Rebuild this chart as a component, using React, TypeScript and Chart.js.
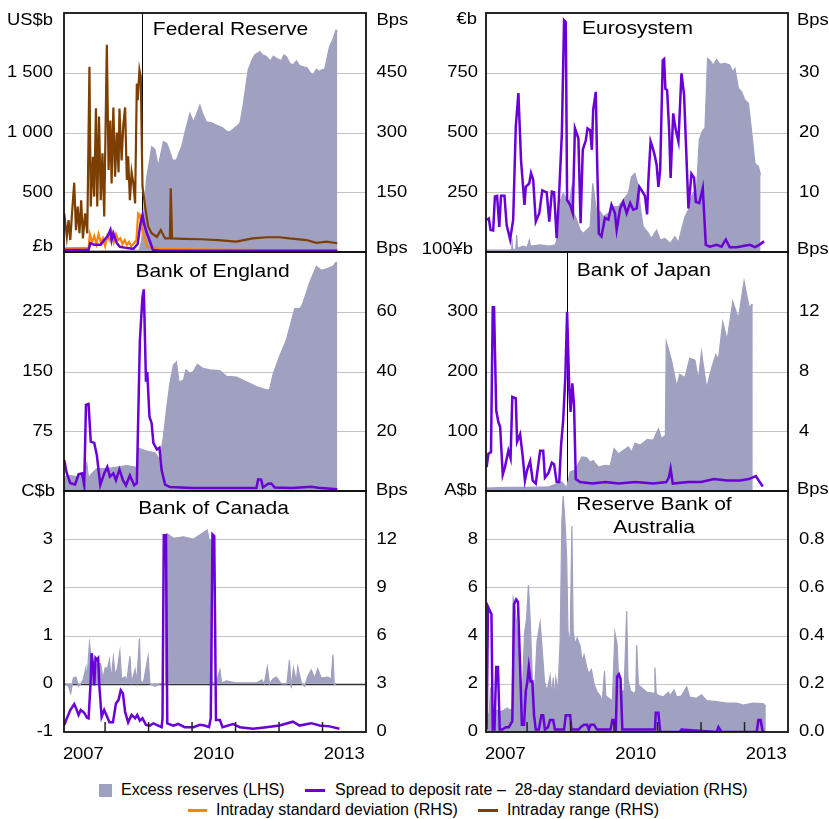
import React, { useEffect, useRef } from 'react';
import { Chart, registerables } from 'chart.js';

Chart.register(...registerables);

type Pt = [number, number];

// ---------------- data ----------------
const X_MIN = 2007.055;
const X_MAX = 2014.0;
const YEAR_LABELS = ['2007', '2010', '2013'];
const YEAR_LABEL_AT = [2007.5, 2010.5, 2013.5];
const YEAR_BOUNDARIES = [2008, 2009, 2010, 2011, 2012, 2013];

const LEGEND_LABELS = [
  'Excess reserves (LHS)',
  'Spread to deposit rate \u2013  28-day standard deviation (RHS)',
  'Intraday standard deviation (RHS)',
  'Intraday range (RHS)',
];

// Federal Reserve
const FED_LHS_TICKS = [0, 500, 1000, 1500, 2000];
const FED_LHS_LABELS = ['0', '500', '1 000', '1 500', 'US$b'];
const FED_RHS_TICKS = [0, 150, 300, 450, 600];
const FED_RHS_LABELS = ['0', '150', '300', '450', 'Bps'];
const FED_MARKER = 2008.84;
const FED_RESERVES: Pt[] = [
  [2007.06, 10], [2007.8, 10], [2008.4, 12], [2008.78, 15], [2008.84, 90], [2008.9, 400], [2008.96, 630],
  [2009.02, 760], [2009.07, 880], [2009.11, 870], [2009.15, 853], [2009.22, 714], [2009.28, 820], [2009.34, 923],
  [2009.42, 909], [2009.48, 850], [2009.55, 770], [2009.64, 770], [2009.7, 830], [2009.76, 881], [2009.85, 1020],
  [2009.95, 1161], [2010.03, 1090], [2010.1, 1150], [2010.18, 1230], [2010.25, 1150], [2010.33, 1090],
  [2010.45, 1080], [2010.56, 1063], [2010.7, 1040], [2010.8, 1010], [2010.87, 1007], [2010.95, 1030],
  [2011.05, 1060], [2011.1, 1077], [2011.17, 1216], [2011.29, 1523], [2011.37, 1600], [2011.44, 1649],
  [2011.56, 1677], [2011.62, 1650], [2011.71, 1635], [2011.8, 1600], [2011.87, 1640], [2011.94, 1621],
  [2012.05, 1600], [2012.11, 1650], [2012.17, 1635], [2012.25, 1580], [2012.32, 1565], [2012.4, 1600],
  [2012.47, 1560], [2012.55, 1551], [2012.65, 1540], [2012.72, 1500], [2012.78, 1481], [2012.86, 1530],
  [2012.92, 1510], [2012.97, 1523], [2013.05, 1530], [2013.16, 1718], [2013.24, 1780], [2013.31, 1858],
  [2013.34, 1845],
];
const FED_SPREAD_SD: Pt[] = [
  [2007.06, 5], [2007.62, 5], [2007.66, 22], [2007.75, 18], [2007.9, 18], [2007.98, 30], [2008.06, 40],
  [2008.12, 55], [2008.15, 30], [2008.19, 47], [2008.27, 22], [2008.34, 13], [2008.45, 11], [2008.65, 8],
  [2008.75, 20], [2008.81, 70], [2008.86, 93], [2008.9, 70], [2008.96, 47], [2009.02, 30], [2009.1, 5],
  [2009.3, 3], [2010.5, 3], [2011.5, 3], [2012.5, 3], [2013.34, 3],
];
const FED_INTRADAY_SD: Pt[] = [
  [2007.06, 9], [2007.4, 10], [2007.62, 10], [2007.65, 45], [2007.7, 25], [2007.75, 40], [2007.8, 20],
  [2007.85, 45], [2007.9, 25], [2007.95, 35], [2008.0, 15], [2008.05, 40], [2008.1, 30], [2008.15, 50],
  [2008.2, 25], [2008.25, 45], [2008.3, 30], [2008.35, 35], [2008.4, 20], [2008.45, 30], [2008.5, 18],
  [2008.55, 25], [2008.6, 15], [2008.65, 20], [2008.72, 30], [2008.76, 97], [2008.8, 93], [2008.84, 60],
  [2008.9, 38], [2008.97, 13], [2009.2, 8], [2009.6, 7], [2010.5, 6], [2011.5, 5], [2012.5, 5], [2013.34, 5],
];
const FED_INTRADAY_RANGE: Pt[] = [
  [2007.06, 97], [2007.12, 38], [2007.16, 80], [2007.2, 30], [2007.24, 98], [2007.29, 174], [2007.33, 55],
  [2007.37, 114], [2007.41, 47], [2007.45, 130], [2007.49, 34], [2007.54, 97], [2007.59, 47], [2007.64, 465],
  [2007.67, 114], [2007.72, 239], [2007.75, 139], [2007.79, 361], [2007.82, 114], [2007.86, 340],
  [2007.9, 130], [2007.94, 248], [2007.98, 89], [2008.04, 520], [2008.08, 206], [2008.12, 330],
  [2008.15, 172], [2008.19, 363], [2008.23, 189], [2008.27, 300], [2008.31, 200], [2008.33, 360],
  [2008.38, 230], [2008.42, 320], [2008.46, 363], [2008.5, 181], [2008.53, 240], [2008.57, 130],
  [2008.61, 200], [2008.65, 172], [2008.69, 122], [2008.73, 423], [2008.75, 381], [2008.79, 457],
  [2008.82, 440], [2008.86, 164], [2008.92, 114], [2008.99, 64], [2009.07, 47], [2009.19, 38], [2009.28, 55],
  [2009.38, 34], [2009.49, 34], [2009.51, 160], [2009.54, 34], [2009.8, 33], [2010.2, 32], [2010.6, 30],
  [2011.02, 26], [2011.39, 34], [2011.71, 37], [2012.01, 37], [2012.24, 34], [2012.63, 30], [2012.86, 23],
  [2013.09, 26], [2013.34, 22],
];

// Eurosystem
const EURO_LHS_TICKS = [0, 250, 500, 750, 1000];
const EURO_LHS_LABELS = ['0', '250', '500', '750', '\u20acb'];
const EURO_RHS_TICKS = [0, 10, 20, 30, 40];
const EURO_RHS_LABELS = ['0', '10', '20', '30', 'Bps'];
const EURO_RESERVES: Pt[] = [
  [2007.07, 8], [2007.6, 8], [2007.63, 10], [2007.65, 57], [2007.67, 10], [2007.74, 12], [2007.76, 71],
  [2007.78, 15], [2007.9, 25], [2008.0, 20], [2008.05, 50], [2008.08, 25], [2008.3, 30], [2008.5, 25],
  [2008.65, 30], [2008.72, 78], [2008.77, 218], [2008.83, 246], [2008.91, 218], [2008.97, 204],
  [2009.03, 273], [2009.08, 162], [2009.14, 134], [2009.22, 92], [2009.29, 78], [2009.45, 106],
  [2009.51, 287], [2009.56, 218], [2009.61, 162], [2009.68, 169], [2009.75, 148], [2009.87, 162],
  [2009.98, 190], [2010.1, 190], [2010.21, 218], [2010.33, 246], [2010.4, 315], [2010.48, 329],
  [2010.56, 273], [2010.6, 190], [2010.67, 106], [2010.79, 78], [2010.86, 57], [2010.98, 92], [2011.06, 50],
  [2011.17, 57], [2011.29, 36], [2011.4, 64], [2011.48, 40], [2011.55, 92], [2011.63, 148], [2011.71, 176],
  [2011.78, 232], [2011.9, 273], [2011.96, 469], [2012.04, 510], [2012.09, 517], [2012.15, 810],
  [2012.2, 803], [2012.28, 782], [2012.36, 806], [2012.43, 786], [2012.55, 789], [2012.66, 782],
  [2012.73, 754], [2012.78, 768], [2012.86, 685], [2012.93, 671], [2013.01, 636], [2013.09, 622],
  [2013.16, 510], [2013.24, 371], [2013.32, 357], [2013.37, 322],
];
const EURO_SPREAD_SD: Pt[] = [
  [2007.07, 5.4], [2007.12, 5.6], [2007.16, 3.7], [2007.22, 3.6], [2007.26, 9.3], [2007.31, 9.4],
  [2007.36, 4.2], [2007.4, 9.4], [2007.48, 9.4], [2007.53, 4.5], [2007.61, 2.1], [2007.68, 5.4],
  [2007.74, 21], [2007.8, 26.6], [2007.86, 15.4], [2007.94, 7.9], [2007.97, 10.9], [2008.05, 11.5],
  [2008.09, 13.2], [2008.14, 12.1], [2008.2, 5.1], [2008.28, 6.5], [2008.35, 10.3], [2008.41, 10.1],
  [2008.45, 10], [2008.51, 5.1], [2008.57, 10.1], [2008.62, 10], [2008.68, 2.3], [2008.73, 8.7],
  [2008.8, 19.9], [2008.85, 38.8], [2008.89, 38.5], [2008.92, 8.7], [2008.99, 7.9], [2009.05, 6.5],
  [2009.1, 20.7], [2009.18, 19], [2009.23, 4.8], [2009.28, 17.1], [2009.35, 18.7], [2009.39, 20.7],
  [2009.45, 20.4], [2009.49, 17.1], [2009.52, 23.8], [2009.58, 26.8], [2009.61, 15.4], [2009.65, 3.1],
  [2009.71, 2.6], [2009.79, 5.7], [2009.87, 5.4], [2009.94, 7.9], [2010.02, 6.5], [2010.06, 3.7],
  [2010.14, 7.3], [2010.21, 8.4], [2010.29, 6.5], [2010.37, 8.2], [2010.44, 7.1], [2010.52, 7.3],
  [2010.58, 10.9], [2010.66, 10], [2010.71, 9.4], [2010.76, 6.3], [2010.79, 12.1], [2010.84, 18.5],
  [2010.89, 17.4], [2010.94, 16], [2010.98, 14.5], [2011.02, 10.9], [2011.06, 13.7], [2011.12, 32.1],
  [2011.15, 32.3], [2011.18, 27.3], [2011.22, 27.1], [2011.27, 19.9], [2011.3, 12.4], [2011.36, 23.2],
  [2011.42, 20.4], [2011.48, 18.5], [2011.55, 29.9], [2011.61, 26.3], [2011.65, 18.7], [2011.71, 7.3],
  [2011.78, 13.1], [2011.84, 12.4], [2011.88, 8.4], [2011.96, 8.2], [2012.04, 10.7], [2012.11, 1.2],
  [2012.2, 0.9], [2012.36, 1.2], [2012.47, 0.9], [2012.57, 2.1], [2012.66, 0.8], [2012.82, 0.8],
  [2012.97, 1.0], [2013.12, 1.2], [2013.24, 0.8], [2013.34, 1.2], [2013.45, 1.8],
];

// Bank of England
const BOE_LHS_TICKS = [0, 75, 150, 225, 300];
const BOE_LHS_LABELS = ['0', '75', '150', '225', '\u00a3b'];
const BOE_RHS_TICKS = [0, 20, 40, 60, 80];
const BOE_RHS_LABELS = ['0', '20', '40', '60', 'Bps'];
const BOE_RESERVES: Pt[] = [
  [2007.06, 15], [2007.12, 20], [2007.35, 18], [2007.5, 20], [2007.58, 35], [2007.62, 15], [2007.66, 20],
  [2007.81, 28], [2008.04, 28], [2008.27, 30], [2008.5, 32], [2008.69, 30], [2008.72, 28], [2008.76, 54],
  [2008.96, 50], [2009.15, 48], [2009.26, 39], [2009.34, 68], [2009.42, 106], [2009.49, 135], [2009.57, 158],
  [2009.64, 162], [2009.7, 137], [2009.8, 139], [2009.86, 152], [2009.95, 148], [2010.03, 150], [2010.12, 159],
  [2010.25, 154], [2010.41, 152], [2010.64, 151], [2010.79, 144], [2011.02, 143], [2011.25, 137],
  [2011.48, 131], [2011.71, 127], [2011.78, 127], [2011.86, 146], [2012.01, 169], [2012.17, 190],
  [2012.36, 229], [2012.47, 229], [2012.53, 233], [2012.7, 261], [2012.86, 282], [2012.97, 277],
  [2013.09, 279], [2013.24, 282], [2013.31, 287], [2013.34, 287],
];
const BOE_SPREAD_SD: Pt[] = [
  [2007.06, 10.4], [2007.12, 5.9], [2007.2, 2.6], [2007.31, 2.2], [2007.39, 5.6], [2007.47, 5.9],
  [2007.52, 1.9], [2007.56, 28.8], [2007.62, 29.1], [2007.67, 16.5], [2007.75, 16.1], [2007.81, 12],
  [2007.89, 2], [2007.98, 5.9], [2008.05, 8.1], [2008.11, 4.8], [2008.19, 5.9], [2008.25, 3.6],
  [2008.33, 7.2], [2008.41, 3.6], [2008.48, 1.9], [2008.57, 5.2], [2008.67, 1.9], [2008.73, 2.6],
  [2008.8, 50.5], [2008.86, 65], [2008.89, 67.5], [2008.94, 36.6], [2008.97, 39.8], [2009.02, 24.9],
  [2009.07, 22.7], [2009.11, 16.1], [2009.19, 13.9], [2009.25, 14.5], [2009.3, 7], [2009.38, 2.1],
  [2009.49, 1.3], [2010.0, 1.0], [2010.5, 1.0], [2011.0, 1.0], [2011.48, 1.0], [2011.52, 3.9],
  [2011.59, 3.8], [2011.63, 1.2], [2011.75, 2.4], [2011.82, 2.5], [2011.9, 1.2], [2012.3, 1.0],
  [2012.74, 1.4], [2012.9, 1.1], [2013.34, 0.6],
];

// Bank of Japan
const BOJ_LHS_TICKS = [0, 100, 200, 300, 400];
const BOJ_LHS_LABELS = ['0', '100', '200', '300', '100\u00a5b'];
const BOJ_RHS_TICKS = [0, 4, 8, 12, 16];
const BOJ_RHS_LABELS = ['0', '4', '8', '12', 'Bps'];
const BOJ_MARKER = 2008.92;
const BOJ_RESERVES: Pt[] = [
  [2007.07, 5], [2007.5, 6], [2008.0, 6], [2008.5, 7], [2008.8, 15], [2008.88, 8], [2008.91, 5],
  [2008.99, 32], [2009.1, 35], [2009.26, 57], [2009.37, 56], [2009.45, 48], [2009.52, 51], [2009.64, 40],
  [2009.79, 43], [2009.91, 42], [2010.0, 71], [2010.1, 62], [2010.21, 68], [2010.33, 74], [2010.4, 65],
  [2010.48, 80], [2010.6, 77], [2010.67, 81], [2010.76, 86], [2010.9, 85], [2011.02, 104], [2011.09, 88],
  [2011.18, 93], [2011.2, 250], [2011.32, 219], [2011.44, 175], [2011.51, 195], [2011.63, 190],
  [2011.74, 222], [2011.86, 219], [2011.94, 186], [2012.01, 233], [2012.13, 172], [2012.24, 205],
  [2012.34, 228], [2012.4, 220], [2012.5, 283], [2012.6, 253], [2012.73, 317], [2012.86, 289],
  [2012.99, 351], [2013.11, 306], [2013.16, 312], [2013.19, 312],
];
const BOJ_SPREAD_SD: Pt[] = [
  [2007.07, 1.6], [2007.11, 2.5], [2007.17, 2.6], [2007.21, 12.3], [2007.24, 12.3], [2007.29, 5.4],
  [2007.34, 4.6], [2007.38, 4.3], [2007.44, 1.1], [2007.49, 1.6], [2007.57, 2.7], [2007.62, 2.2],
  [2007.66, 6.3], [2007.74, 6.2], [2007.77, 3.3], [2007.84, 3.8], [2007.9, 2.3], [2007.95, 0.7],
  [2008.0, 1.4], [2008.07, 2.0], [2008.13, 0.7], [2008.2, 0.5], [2008.3, 2.7], [2008.37, 2.7],
  [2008.41, 0.9], [2008.49, 1.2], [2008.57, 1.9], [2008.62, 1.8], [2008.68, 0.6], [2008.74, 0.6],
  [2008.78, 3.0], [2008.83, 4.75], [2008.88, 7.7], [2008.92, 12.0], [2008.97, 6.8], [2009.0, 5.3],
  [2009.04, 7.2], [2009.08, 5.7], [2009.12, 0.8], [2009.22, 0.6], [2009.5, 0.5], [2009.8, 0.6],
  [2010.1, 0.5], [2010.5, 0.6], [2010.9, 0.5], [2011.2, 0.6], [2011.26, 0.9], [2011.3, 1.5],
  [2011.35, 0.5], [2011.7, 0.6], [2012.0, 0.6], [2012.3, 0.8], [2012.6, 0.7], [2012.9, 0.7],
  [2013.1, 0.8], [2013.26, 1.0], [2013.35, 0.6], [2013.42, 0.3],
];

// Bank of Canada
const BOC_LHS_TICKS = [-1, 0, 1, 2, 3, 4];
const BOC_LHS_LABELS = ['-1', '0', '1', '2', '3', 'C$b'];
const BOC_RHS_TICKS = [0, 3, 6, 9, 12, 15];
const BOC_RHS_LABELS = ['0', '3', '6', '9', '12', 'Bps'];
const BOC_RESERVES: Pt[] = [
  [2007.08, 0], [2007.16, -0.05], [2007.21, -0.2], [2007.27, 0.12], [2007.33, 0.14], [2007.39, -0.05],
  [2007.44, 0.0], [2007.5, 0.1], [2007.56, 0.33], [2007.58, 0.05], [2007.64, 0.84], [2007.68, 0.57],
  [2007.73, 0.4], [2007.79, 0.42], [2007.85, 0.4], [2007.9, 0.42], [2007.95, 0.1], [2008.0, 0.33],
  [2008.06, 0.33], [2008.1, 0.5], [2008.14, 0.1], [2008.19, 0.55], [2008.23, 0.2], [2008.28, 0.3],
  [2008.34, 0.67], [2008.38, 0.1], [2008.46, 0.15], [2008.5, 0.05], [2008.57, 0.57], [2008.61, 0.03],
  [2008.69, 0.3], [2008.73, 0.05], [2008.79, 0.94], [2008.82, 0.05], [2008.88, 0.02], [2008.99, 0.57],
  [2009.03, 0.0], [2009.15, -0.05], [2009.26, 0.0], [2009.38, 0.0], [2009.39, 3.0], [2009.42, 3.12],
  [2009.57, 3.02], [2009.8, 3.05], [2010.03, 3.0], [2010.35, 3.19], [2010.39, 3.0], [2010.45, 2.98],
  [2010.46, 0.04], [2010.55, 0.0], [2010.64, 0.29], [2010.68, 0.02], [2010.79, 0.06], [2011.0, 0.02],
  [2011.5, 0.02], [2011.6, 0.08], [2011.66, 0.0], [2011.73, 0.35], [2011.78, 0.0], [2011.86, 0.1],
  [2011.94, 0.14], [2012.05, 0.0], [2012.18, 0.0], [2012.24, 0.49], [2012.28, -0.09], [2012.33, 0.33],
  [2012.4, 0.05], [2012.43, 0.35], [2012.52, 0.0], [2012.59, -0.05], [2012.66, 0.15], [2012.74, 0.29],
  [2012.82, 0.12], [2012.89, 0.31], [2012.97, 0.12], [2013.12, 0.14], [2013.2, 0.1], [2013.24, 0.6],
  [2013.27, -0.02], [2013.31, 0.0],
];
const BOC_SPREAD_SD: Pt[] = [
  [2007.06, 0.44], [2007.12, 0.85], [2007.2, 1.37], [2007.29, 1.74], [2007.33, 1.5], [2007.39, 1.06],
  [2007.44, 1.37], [2007.52, 1.2], [2007.58, 0.9], [2007.62, 0.85], [2007.67, 3.23], [2007.69, 4.9],
  [2007.73, 4.0], [2007.75, 2.9], [2007.78, 4.6], [2007.81, 4.5], [2007.84, 4.6], [2007.87, 2.8],
  [2007.92, 0.95], [2007.98, 1.37], [2008.04, 1.0], [2008.1, 0.6], [2008.18, 0.6], [2008.25, 1.78],
  [2008.31, 2.0], [2008.36, 2.6], [2008.41, 2.4], [2008.46, 1.26], [2008.53, 0.6], [2008.61, 1.06],
  [2008.69, 0.85], [2008.74, 1.06], [2008.8, 0.7], [2008.86, 0.85], [2008.94, 0.44], [2009.03, 0.4],
  [2009.11, 0.54], [2009.22, 0.4], [2009.3, 0.3], [2009.32, 0.85], [2009.35, 12.25], [2009.4, 12.25],
  [2009.43, 0.54], [2009.57, 0.4], [2009.68, 0.5], [2009.83, 0.3], [2010.03, 0.3], [2010.18, 0.45],
  [2010.29, 0.4], [2010.39, 0.3], [2010.43, 0.85], [2010.47, 12.3], [2010.51, 12.2], [2010.55, 0.75],
  [2010.64, 0.75], [2010.7, 0.3], [2010.94, 0.5], [2011.1, 0.3], [2011.4, 0.2], [2011.71, 0.3],
  [2012.01, 0.4], [2012.32, 0.64], [2012.47, 0.4], [2012.74, 0.55], [2012.93, 0.4], [2013.16, 0.35],
  [2013.39, 0.2],
];

// Reserve Bank of Australia
const RBA_LHS_TICKS = [0, 2, 4, 6, 8, 10];
const RBA_LHS_LABELS = ['0', '2', '4', '6', '8', 'A$b'];
const RBA_RHS_TICKS = [0, 0.2, 0.4, 0.6, 0.8, 1.0];
const RBA_RHS_LABELS = ['0.0', '0.2', '0.4', '0.6', '0.8', 'Bps'];
const RBA_RESERVES: Pt[] = [
  [2007.07, 1.0], [2007.12, 0.5], [2007.16, 1.84], [2007.2, 0.87], [2007.31, 0.9], [2007.4, 0.85],
  [2007.46, 0.9], [2007.54, 1.0], [2007.61, 0.9], [2007.66, 1.0], [2007.68, 5.57], [2007.71, 5.4],
  [2007.76, 4.47], [2007.81, 3.36], [2007.85, 2.25], [2007.89, 1.7], [2007.94, 4.05], [2007.99, 4.74],
  [2008.03, 6.09], [2008.07, 4.74], [2008.12, 2.25], [2008.17, 1.7], [2008.23, 3.78], [2008.3, 4.54],
  [2008.35, 3.36], [2008.4, 2.1], [2008.46, 1.7], [2008.53, 2.32], [2008.57, 1.5], [2008.6, 2.25],
  [2008.63, 1.4], [2008.66, 2.25], [2008.71, 1.7], [2008.76, 3.78], [2008.8, 8.76], [2008.83, 9.79],
  [2008.87, 8.76], [2008.91, 7.23], [2008.94, 4.19], [2008.99, 3.64], [2009.03, 8.55], [2009.06, 4.19],
  [2009.1, 3.64], [2009.15, 3.9], [2009.22, 3.57], [2009.26, 2.96], [2009.31, 3.2], [2009.37, 2.7],
  [2009.42, 2.42], [2009.48, 2.6], [2009.54, 2.0], [2009.61, 1.66], [2009.68, 1.5], [2009.73, 1.29],
  [2009.78, 2.53], [2009.81, 1.5], [2009.88, 1.4], [2009.96, 1.29], [2010.02, 4.12], [2010.07, 3.64],
  [2010.11, 2.0], [2010.17, 1.7], [2010.23, 1.7], [2010.29, 5.02], [2010.32, 2.2], [2010.38, 1.7],
  [2010.46, 1.6], [2010.5, 1.7], [2010.52, 3.61], [2010.56, 1.95], [2010.75, 1.66], [2010.92, 1.6],
  [2010.94, 2.67], [2010.97, 1.6], [2011.02, 1.52], [2011.13, 1.45], [2011.25, 1.65], [2011.29, 1.5],
  [2011.38, 1.74], [2011.44, 1.45], [2011.55, 1.5], [2011.67, 1.88], [2011.74, 1.45], [2011.9, 1.4],
  [2012.01, 1.54], [2012.13, 1.3], [2012.36, 1.26], [2012.59, 1.2], [2012.82, 1.2], [2012.97, 1.12],
  [2013.2, 1.2], [2013.43, 1.18], [2013.49, 1.05],
];
const RBA_SPREAD_SD: Pt[] = [
  [2007.07, 0.01], [2007.1, 0.52], [2007.15, 0.5], [2007.18, 0.49], [2007.21, 0.01], [2007.25, 0.01],
  [2007.29, 0.27], [2007.33, 0.27], [2007.37, 0.01], [2007.43, 0.01], [2007.51, 0.02], [2007.58, 0.02],
  [2007.66, 0.045], [2007.7, 0.53], [2007.75, 0.55], [2007.79, 0.54], [2007.84, 0.27], [2007.88, 0.03],
  [2007.93, 0.03], [2007.97, 0.17], [2008.0, 0.2], [2008.04, 0.27], [2008.08, 0.21], [2008.12, 0.21],
  [2008.16, 0.07], [2008.2, 0.01], [2008.27, 0.01], [2008.33, 0.07], [2008.37, 0.07], [2008.41, 0.01],
  [2008.48, 0.02], [2008.53, 0.05], [2008.6, 0.05], [2008.64, 0.01], [2008.85, 0.01], [2008.89, 0.07],
  [2008.99, 0.07], [2009.02, 0.01], [2009.19, 0.01], [2009.23, 0.02], [2009.31, 0.03], [2009.38, 0.03],
  [2009.42, 0.01], [2009.46, 0.03], [2009.54, 0.03], [2009.61, 0.01], [2009.92, 0.01], [2009.96, 0.05],
  [2010.0, 0.05], [2010.04, 0.01], [2010.07, 0.23], [2010.11, 0.24], [2010.15, 0.22], [2010.19, 0.01],
  [2010.94, 0.01], [2010.96, 0.08], [2011.02, 0.08], [2011.06, 0.0], [2011.5, 0.0], [2011.55, 0.01],
  [2012.36, 0.0], [2012.4, 0.02], [2012.47, 0.0], [2013.28, 0.0], [2013.32, 0.05], [2013.37, 0.05],
  [2013.42, 0.0], [2013.47, 0.0],
];

// ---------------- styles & layout ----------------
const FONT = "'Liberation Sans', Arial, Helvetica, sans-serif";
const STRETCH = 1.13;
const TICK_SIZE = 16.3;
const TITLE_SIZE = 18.6;
const AREA = '#a0a0c0';
const PURPLE = '#6a00d6';
const ORANGE = '#ff8400';
const BROWN = '#7d3f00';
const GRID = '#c4c4c4';

interface PanelDef {
  title: string[];
  lhsTicks: number[]; lhsLabels: string[];
  rhsTicks: number[]; rhsLabels: string[];
  reserves: Pt[]; spread: Pt[];
  intradaySd?: Pt[]; intradayRange?: Pt[];
  marker?: number;
  zeroLine?: boolean;
}

interface PanelLayout {
  col: number; row: number;
  titleDx: number; titleDy: number[];
  unitL: [number, number]; unitR: [number, number];
}

const COLS = [
  { left: 0, w: 414, padL: 64, padR: 48, numL: 11, numR: 10.5 },
  { left: 414, w: 415, padL: 72, padR: 41, numL: 8, numR: 11 },
];
const ROWS = [
  { top: 0, padT: 13, plotH: 239, padB: 13 },
  { top: 232, padT: 20, plotH: 239, padB: 13 },
  { top: 471, padT: 20, plotH: 241, padB: 45 },
];

const PANELS: { def: PanelDef; lay: PanelLayout }[] = [
  {
    def: { title: ['Federal Reserve'], lhsTicks: FED_LHS_TICKS, lhsLabels: FED_LHS_LABELS, rhsTicks: FED_RHS_TICKS, rhsLabels: FED_RHS_LABELS, reserves: FED_RESERVES, spread: FED_SPREAD_SD, intradaySd: FED_INTRADAY_SD, intradayRange: FED_INTRADAY_RANGE, marker: FED_MARKER },
    lay: { col: 0, row: 0, titleDx: 15.5, titleDy: [17], unitL: [-11, 7.5], unitR: [10.5, 7.5] },
  },
  {
    def: { title: ['Eurosystem'], lhsTicks: EURO_LHS_TICKS, lhsLabels: EURO_LHS_LABELS, rhsTicks: EURO_RHS_TICKS, rhsLabels: EURO_RHS_LABELS, reserves: EURO_RESERVES, spread: EURO_SPREAD_SD },
    lay: { col: 1, row: 0, titleDx: 0.5, titleDy: [16], unitL: [-9, 6.7], unitR: [9, 7.5] },
  },
  {
    def: { title: ['Bank of England'], lhsTicks: BOE_LHS_TICKS, lhsLabels: BOE_LHS_LABELS, rhsTicks: BOE_RHS_TICKS, rhsLabels: BOE_RHS_LABELS, reserves: BOE_RESERVES, spread: BOE_SPREAD_SD },
    lay: { col: 0, row: 1, titleDx: -2.5, titleDy: [19.5], unitL: [-11, -5.5], unitR: [10, -3] },
  },
  {
    def: { title: ['Bank of Japan'], lhsTicks: BOJ_LHS_TICKS, lhsLabels: BOJ_LHS_LABELS, rhsTicks: BOJ_RHS_TICKS, rhsLabels: BOJ_RHS_LABELS, reserves: BOJ_RESERVES, spread: BOJ_SPREAD_SD, marker: BOJ_MARKER },
    lay: { col: 1, row: 1, titleDx: 6.8, titleDy: [18.8], unitL: [-13, -2], unitR: [9, -2] },
  },
  {
    def: { title: ['Bank of Canada'], lhsTicks: BOC_LHS_TICKS, lhsLabels: BOC_LHS_LABELS, rhsTicks: BOC_RHS_TICKS, rhsLabels: BOC_RHS_LABELS, reserves: BOC_RESERVES, spread: BOC_SPREAD_SD, zeroLine: true },
    lay: { col: 0, row: 2, titleDx: -1.5, titleDy: [17.5], unitL: [-9, 0.5], unitR: [10, 0] },
  },
  {
    def: { title: ['Reserve Bank of', 'Australia'], lhsTicks: RBA_LHS_TICKS, lhsLabels: RBA_LHS_LABELS, rhsTicks: RBA_RHS_TICKS, rhsLabels: RBA_RHS_LABELS, reserves: RBA_RESERVES, spread: RBA_SPREAD_SD },
    lay: { col: 1, row: 2, titleDx: 17, titleDy: [14, 37.3], unitL: [-9, 0], unitR: [9, -1] },
  },
];

function drawText(ctx: CanvasRenderingContext2D, s: string, x: number, y: number, align: CanvasTextAlign, size: number) {
  ctx.save();
  ctx.translate(x, y);
  ctx.scale(STRETCH, 1);
  ctx.font = `${size}px ${FONT}`;
  ctx.textAlign = align;
  ctx.textBaseline = 'middle';
  ctx.fillStyle = '#000';
  ctx.fillText(s, 0, 0);
  ctx.restore();
}

function makeDecor(def: PanelDef, lay: PanelLayout) {
  const col = COLS[lay.col];
  const isBottom = lay.row === 2;
  return {
    id: 'decor',
    beforeDatasetsDraw(chart: any) {
      const { ctx, chartArea: a, scales } = chart;
      ctx.save();
      def.lhsTicks.forEach((v, i) => {
        if (i === 0 || i === def.lhsTicks.length - 1) return;
        const py = Math.round(scales.y.getPixelForValue(v)) + 0.5;
        const zero = def.zeroLine && v === 0;
        ctx.strokeStyle = zero ? '#333' : GRID;
        ctx.lineWidth = zero ? 1.5 : 1;
        ctx.beginPath();
        ctx.moveTo(a.left, py);
        ctx.lineTo(a.right, py);
        ctx.stroke();
      });
      if (def.marker !== undefined) {
        const px = Math.round(scales.x.getPixelForValue(def.marker)) + 0.5;
        ctx.strokeStyle = '#000';
        ctx.lineWidth = 1;
        ctx.beginPath();
        ctx.moveTo(px, a.top);
        ctx.lineTo(px, a.bottom);
        ctx.stroke();
      }
      ctx.restore();
    },
    afterDatasetsDraw(chart: any) {
      const { ctx, chartArea: a, scales } = chart;
      ctx.save();
      if (isBottom) {
        ctx.strokeStyle = '#222';
        ctx.lineWidth = 1.5;
        YEAR_BOUNDARIES.forEach((yr) => {
          const px = scales.x.getPixelForValue(yr);
          ctx.beginPath();
          ctx.moveTo(px, a.bottom);
          ctx.lineTo(px, a.bottom - 10);
          ctx.stroke();
        });
      }
      ctx.strokeStyle = '#111';
      ctx.lineWidth = 1.8;
      ctx.strokeRect(a.left, a.top, a.right - a.left, a.bottom - a.top);

      const cx = (a.left + a.right) / 2 + lay.titleDx;
      def.title.forEach((line, i) => drawText(ctx, line, cx, a.top + lay.titleDy[i], 'center', TITLE_SIZE));

      const nL = def.lhsTicks.length;
      def.lhsTicks.forEach((v, i) => {
        if (i === nL - 1) return;
        if (i === 0 && !isBottom) return;
        drawText(ctx, def.lhsLabels[i], a.left - col.numL, scales.y.getPixelForValue(v), 'right', TICK_SIZE);
      });
      drawText(ctx, def.lhsLabels[nL - 1], a.left + lay.unitL[0], a.top + lay.unitL[1], 'right', TICK_SIZE);

      const nR = def.rhsTicks.length;
      def.rhsTicks.forEach((v, i) => {
        if (i === nR - 1) return;
        if (i === 0 && !isBottom) return;
        drawText(ctx, def.rhsLabels[i], a.right + col.numR, scales.y1.getPixelForValue(v), 'left', TICK_SIZE);
      });
      drawText(ctx, def.rhsLabels[nR - 1], a.right + lay.unitR[0], a.top + lay.unitR[1], 'left', TICK_SIZE);

      if (isBottom) {
        YEAR_LABEL_AT.forEach((yr, i) => {
          drawText(ctx, YEAR_LABELS[i], scales.x.getPixelForValue(yr), a.bottom + 23, 'center', TICK_SIZE);
        });
      }
      ctx.restore();
    },
  };
}

const toXY = (pts: Pt[]) => pts.map(([x, y]) => ({ x, y }));

function Panel({ def, lay }: { def: PanelDef; lay: PanelLayout }) {
  const ref = useRef<HTMLCanvasElement>(null);
  const col = COLS[lay.col];
  const row = ROWS[lay.row];
  const h = row.padT + row.plotH + row.padB;

  useEffect(() => {
    const datasets: any[] = [
      { data: toXY(def.spread), yAxisID: 'y1', borderColor: PURPLE, borderWidth: 2.5, pointRadius: 0, fill: false, order: 0 },
    ];
    if (def.intradaySd) {
      datasets.push({ data: toXY(def.intradaySd), yAxisID: 'y1', borderColor: ORANGE, borderWidth: 2.2, pointRadius: 0, fill: false, order: 1 });
    }
    if (def.intradayRange) {
      datasets.push({ data: toXY(def.intradayRange), yAxisID: 'y1', borderColor: BROWN, borderWidth: 2.2, pointRadius: 0, fill: false, order: 2 });
    }
    datasets.push({ data: toXY(def.reserves), yAxisID: 'y', borderWidth: 1.2, borderColor: AREA, backgroundColor: AREA, pointRadius: 0, fill: 'origin', order: 3 });

    const chart = new Chart(ref.current as HTMLCanvasElement, {
      type: 'line',
      data: { datasets },
      options: {
        animation: false,
        responsive: false,
        events: [],
        layout: { padding: { left: col.padL, right: col.padR, top: row.padT, bottom: row.padB } },
        plugins: { legend: { display: false }, tooltip: { enabled: false } },
        elements: { line: { tension: 0 } },
        scales: {
          x: { type: 'linear', min: X_MIN, max: X_MAX, display: false },
          y: { type: 'linear', position: 'left', min: def.lhsTicks[0], max: def.lhsTicks[def.lhsTicks.length - 1], display: false },
          y1: { type: 'linear', position: 'right', min: def.rhsTicks[0], max: def.rhsTicks[def.rhsTicks.length - 1], display: false },
        },
      },
      plugins: [makeDecor(def, lay)],
    } as any);
    return () => chart.destroy();
  }, []);

  return (
    <canvas
      ref={ref}
      width={col.w}
      height={h}
      style={{ position: 'absolute', left: col.left, top: row.top, width: col.w, height: h }}
    />
  );
}

const legendText: React.CSSProperties = {
  position: 'absolute', fontFamily: FONT, fontSize: 16, lineHeight: '18px', color: '#000', whiteSpace: 'pre',
};

export default function App() {
  return (
    <div style={{ position: 'absolute', left: 0, top: 0, width: 829, height: 819, background: '#fff', overflow: 'hidden' }}>
      {PANELS.map((p, i) => (
        <Panel key={i} def={p.def} lay={p.lay} />
      ))}
      <div style={{ position: 'absolute', left: 99, top: 784, width: 13, height: 13, background: AREA }} />
      <span style={{ ...legendText, left: 121, top: 781 }}>{LEGEND_LABELS[0]}</span>
      <div style={{ position: 'absolute', left: 305, top: 788.5, width: 20, height: 3, background: PURPLE }} />
      <span style={{ ...legendText, left: 335, top: 781 }}>{LEGEND_LABELS[1]}</span>
      <div style={{ position: 'absolute', left: 188, top: 808.5, width: 19, height: 3, background: ORANGE }} />
      <span style={{ ...legendText, left: 216, top: 801 }}>{LEGEND_LABELS[2]}</span>
      <div style={{ position: 'absolute', left: 478, top: 808.5, width: 20, height: 3, background: BROWN }} />
      <span style={{ ...legendText, left: 507, top: 801 }}>{LEGEND_LABELS[3]}</span>
    </div>
  );
}
